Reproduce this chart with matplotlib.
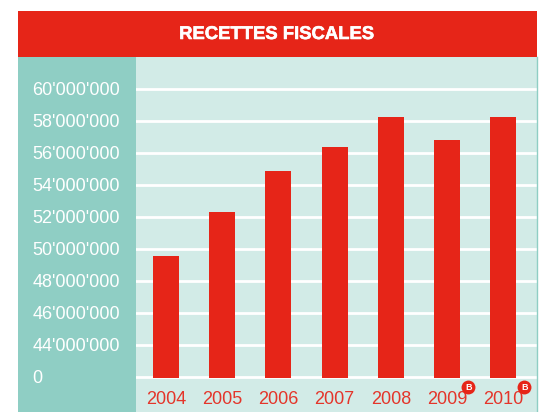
import matplotlib
matplotlib.use("Agg")
import matplotlib.pyplot as plt
import matplotlib.patheffects as pe
from matplotlib.patches import Rectangle

# figure size in pixels, used to place the panels
W, H = 542, 412

RED = "#E62518"
TEAL = "#8FCEC4"
LIGHT = "#D2EBE7"

years = ["2004", "2005", "2006", "2007", "2008", "2009", "2010"]
recettes = [49530000, 52300000, 54850000, 56350000, 58250000, 56800000, 58250000]
tick_values = [42000000, 44000000, 46000000, 48000000, 50000000,
               52000000, 54000000, 56000000, 58000000, 60000000]
tick_labels = ["0", "44'000'000", "46'000'000", "48'000'000", "50'000'000",
               "52'000'000", "54'000'000", "56'000'000", "58'000'000", "60'000'000"]
badge_years = ["2009", "2010"]

AXIS_BASE = 42000000  # the axis is broken: the "0" tick sits where 42M would be


def px_rect(x0, y0, x1, y1):
    # pixel box (y from the top) to figure fractions
    return [x0 / W, 1 - y1 / H, (x1 - x0) / W, (y1 - y0) / H]


plt.rcParams["font.family"] = "Liberation Sans"

fig = plt.figure(figsize=(W / 100, H / 100), dpi=100, facecolor="white")

# left teal column and red header, behind the axes so tick labels stay on top
for box, colour in [(px_rect(18, 57, 136, 412), TEAL), (px_rect(18, 11, 537, 57), RED)]:
    fig.patches.append(Rectangle((box[0], box[1]), box[2], box[3], transform=fig.transFigure,
                                 facecolor=colour, edgecolor="none", zorder=-1))

title = fig.text(277 / W, 1 - 34.5 / H, "RECETTES FISCALES", color="white", fontsize=13.3,
                 fontweight="bold", ha="center", va="center")
title.set_path_effects([pe.withStroke(linewidth=0.4, foreground="white")])

ax = fig.add_axes(px_rect(136, 57, 537, 412))
ax.set_facecolor(LIGHT)

x = list(range(len(years)))
bar_bottom = AXIS_BASE - 80000
heights = [v - bar_bottom for v in recettes]
ax.bar(x, heights, bottom=bar_bottom, width=0.463, color=RED, zorder=3)

ax.set_xlim(-0.534, 6.60)
ax.set_ylim(39780000, 62000000)

ax.set_yticks(tick_values)
ax.set_yticklabels(tick_labels, color="white", fontsize=13)
ax.set_xticks(x)
ax.set_xticklabels(years, color="#E4352A", fontsize=13)
ax.tick_params(axis="y", length=0, pad=74.5)
# years sit inside the light panel, so the labels are pulled back over the axes
ax.tick_params(axis="x", length=0, pad=-15)
# tick_params resets the alignment, so this has to come after it
for label in ax.get_yticklabels():
    label.set_ha("left")
    label.set_va("center_baseline")
ax.grid(axis="y", color="white", linewidth=2, zorder=1)
ax.set_axisbelow(True)

for side in ["top", "left", "bottom"]:
    ax.spines[side].set_visible(False)
ax.spines["right"].set_color(TEAL)
ax.spines["right"].set_linewidth(1)

# small round "B" notes next to the last two years
for year in badge_years:
    i = years.index(year)
    ax.plot([i + 0.375], [AXIS_BASE - 650000], marker="o", markersize=10, color=RED,
            clip_on=False, zorder=5, markeredgecolor="none")
    ax.text(i + 0.375, AXIS_BASE - 650000, "B", color="white", fontsize=6.5, fontweight="bold",
            ha="center", va="center_baseline", zorder=6)

fig.savefig("out.png", dpi=100)
